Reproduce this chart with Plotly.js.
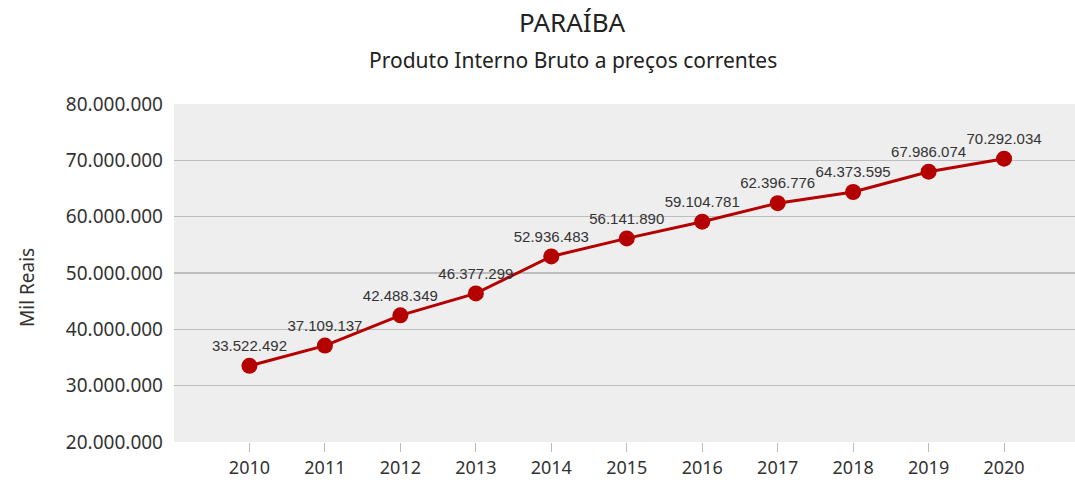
<!DOCTYPE html>
<html>
<head>
<meta charset="utf-8">
<script src="https://cdn.plot.ly/plotly-3.0.1.min.js"></script>
<style>html,body{margin:0;padding:0;background:#fff;}#chart{width:1075px;height:480px;}</style>
</head>
<body>
<div id="chart"></div>
<script>
const years = [2010, 2011, 2012, 2013, 2014, 2015, 2016, 2017, 2018, 2019, 2020];
const pib = [33522492, 37109137, 42488349, 46377299, 52936483, 56141890, 59104781, 62396776, 64373595, 67986074, 70292034];
const yTicks = [20000000, 30000000, 40000000, 50000000, 60000000, 70000000, 80000000];
const fmt = v => String(v).replace(/\B(?=(\d{3})+(?!\d))/g, '.');
const yTickText = yTicks.map(fmt);
const labels = pib.map(fmt);

const trace = {
  x: years, y: pib, type: 'scatter', mode: 'lines+markers+text',
  line: {color: '#b50000', width: 3},
  marker: {color: '#b50000', size: 16},
  text: labels, textposition: 'top center',
  textfont: {family: 'Liberation Sans, Arial, sans-serif', size: 15, color: '#333'},
  cliponaxis: false, hoverinfo: 'x+y'
};

const layout = {
  width: 1075, height: 480,
  margin: {l: 174, r: 0, t: 104, b: 38},
  paper_bgcolor: '#ffffff', plot_bgcolor: '#eeeeee',
  showlegend: false,
  font: {family: 'Noto Sans, Open Sans, sans-serif', color: '#333'},
  xaxis: {
    range: [2009, 2020.94], tickvals: years, ticktext: years.map(String),
    showgrid: false, zeroline: false, showline: false,
    ticks: 'outside', ticklen: 9, tickcolor: '#bbbbbb', tickwidth: 1,
    tickfont: {size: 18, color: '#333'}
  },
  yaxis: {
    range: [20000000, 80000000], tickvals: yTicks, ticktext: yTickText,
    showgrid: true, gridcolor: '#bdbdbd', gridwidth: 1.2, zeroline: false, showline: false,
    ticks: '', ticklabelstandoff: 10,
    tickfont: {size: 19, color: '#333'}
  },
  annotations: [
    {text: 'PARAÍBA', xref: 'paper', yref: 'paper', x: 0.5, y: 1, xanchor: 'center', yanchor: 'middle',
     yshift: 82, xshift: -52, showarrow: false, font: {size: 26, color: '#222'}},
    {text: 'Produto Interno Bruto a preços correntes', xref: 'paper', yref: 'paper', x: 0.5, y: 1,
     xanchor: 'center', yanchor: 'middle', yshift: 44, xshift: -52, showarrow: false, font: {size: 21, color: '#222'}},
    {text: 'Mil Reais', xref: 'paper', yref: 'paper', x: 0, y: 0.5, xanchor: 'center', yanchor: 'middle',
     xshift: -147, yshift: -15, textangle: -90, showarrow: false, font: {size: 19, color: '#333'}}
  ]
};

Plotly.newPlot('chart', [trace], layout, {displayModeBar: false, staticPlot: true});
</script>
</body>
</html>
